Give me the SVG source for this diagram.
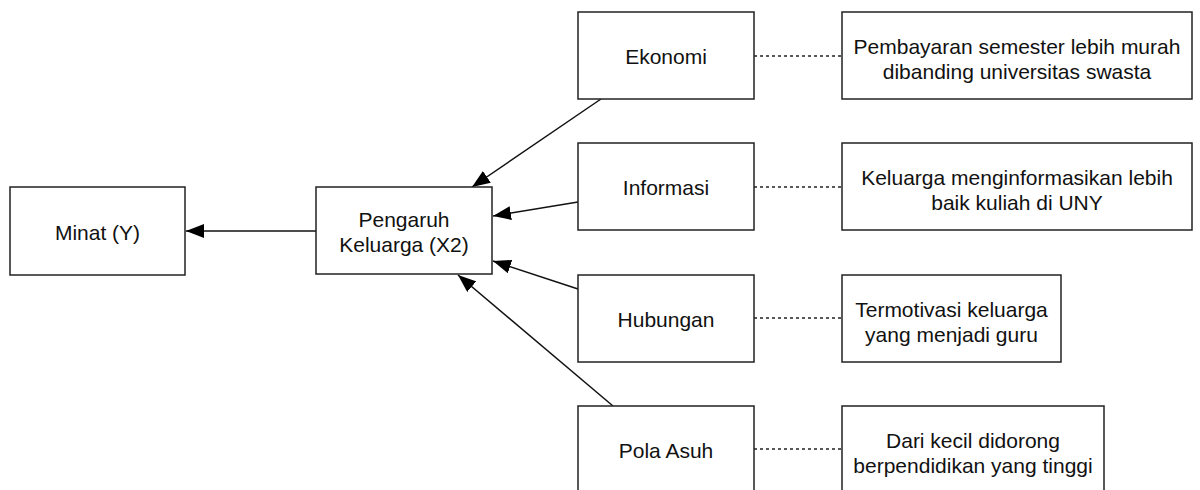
<svg xmlns="http://www.w3.org/2000/svg" width="1200" height="490" viewBox="0 0 1200 490">
<style>
.box{fill:#fff;stroke:#222;stroke-width:1.5}
.t{font-family:"Liberation Sans",Arial,sans-serif;font-size:21px;fill:#111;text-anchor:middle}
.c{stroke:#111;stroke-width:1.5;fill:none}
.d{stroke:#222;stroke-width:1.5;fill:none;stroke-dasharray:3 3}
</style>
<defs>
<marker id="ah" viewBox="0 0 18 14" refX="18" refY="7" markerWidth="18" markerHeight="14" markerUnits="userSpaceOnUse" orient="auto">
<path d="M0,0 L18,7 L0,14 Z" fill="#000"/>
</marker>
</defs>
<rect width="1200" height="490" fill="#fff"/>
<g id="connectors">
<line class="c" x1="316" y1="231" x2="186" y2="231" marker-end="url(#ah)"/>
<line class="c" x1="601" y1="99" x2="472" y2="187" marker-end="url(#ah)"/>
<line class="c" x1="578" y1="202" x2="493" y2="216" marker-end="url(#ah)"/>
<line class="c" x1="578" y1="289" x2="493" y2="261" marker-end="url(#ah)"/>
<line class="c" x1="613" y1="406" x2="458" y2="275" marker-end="url(#ah)"/>
<line class="d" x1="754" y1="56" x2="842" y2="56"/>
<line class="d" x1="754" y1="187" x2="842" y2="187"/>
<line class="d" x1="754" y1="318" x2="842" y2="318"/>
<line class="d" x1="754" y1="449" x2="842" y2="449"/>
</g>
<g id="minat">
<rect class="box" x="10" y="187" width="175" height="88"/>
<text class="t" x="97.5" y="240">Minat (Y)</text>
</g>
<g id="pengaruh">
<rect class="box" x="316" y="187" width="176" height="87"/>
<text class="t" x="404" y="227">Pengaruh</text>
<text class="t" x="404" y="252">Keluarga (X2)</text>
</g>
<g id="ekonomi">
<rect class="box" x="578" y="12" width="176" height="87"/>
<text class="t" x="666" y="64">Ekonomi</text>
</g>
<g id="informasi">
<rect class="box" x="578" y="143" width="176" height="87"/>
<text class="t" x="666" y="195">Informasi</text>
</g>
<g id="hubungan">
<rect class="box" x="578" y="275" width="176" height="87"/>
<text class="t" x="666" y="327">Hubungan</text>
</g>
<g id="pola-asuh">
<rect class="box" x="578" y="406" width="176" height="90"/>
<text class="t" x="666" y="458">Pola Asuh</text>
</g>
<g id="ket-ekonomi">
<rect class="box" x="842" y="12" width="350" height="87"/>
<text class="t" x="1017" y="54">Pembayaran semester lebih murah</text>
<text class="t" x="1017" y="79">dibanding universitas swasta</text>
</g>
<g id="ket-informasi">
<rect class="box" x="842" y="143" width="350" height="87"/>
<text class="t" x="1017" y="185">Keluarga menginformasikan lebih</text>
<text class="t" x="1017" y="210">baik kuliah di UNY</text>
</g>
<g id="ket-hubungan">
<rect class="box" x="842" y="275" width="219" height="87"/>
<text class="t" x="951.5" y="317">Termotivasi keluarga</text>
<text class="t" x="951.5" y="342">yang menjadi guru</text>
</g>
<g id="ket-pola-asuh">
<rect class="box" x="842" y="406" width="262" height="90"/>
<text class="t" x="973" y="448">Dari kecil didorong</text>
<text class="t" x="973" y="473">berpendidikan yang tinggi</text>
</g>
</svg>
